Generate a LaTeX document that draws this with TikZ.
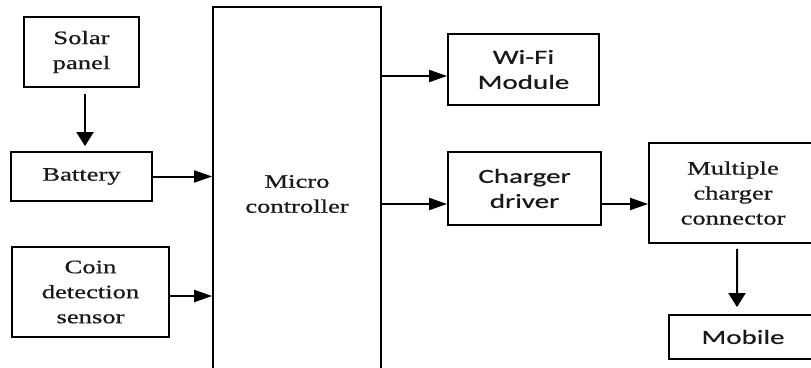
\documentclass[tikz,border=0pt]{standalone}
\usepackage{fontspec}
\setmainfont[FakeStretch=1.4, FakeBold=0.7]{Liberation Serif}
\newfontfamily\calibrifont[FakeStretch=1.45, FakeBold=0.7]{Carlito}
\usetikzlibrary{arrows.meta}

\begin{document}
\begin{tikzpicture}[x=1bp, y=-1bp,
    block/.style={draw, line width=1.8bp, inner sep=0pt, align=center,
        text=black!90, font=\fontsize{19bp}{25bp}\selectfont},
    sblock/.style={block, font=\calibrifont\fontsize{20bp}{25bp}\selectfont},
    harrow/.style={line width=2bp, -{Triangle[length=18bp, width=12bp]}},
    varrow/.style={line width=2bp, -{Triangle[length=14bp, width=17bp]}}]

    \useasboundingbox (0,0) rectangle (811,367);

    % Inputs
    \node[block, minimum width=115bp, minimum height=70bp] (solar) at (81.5,52) {Solar\\panel};
    \node[block, minimum width=141bp, minimum height=49bp] (battery) at (81.5,176.5) {Battery};
    \node[block, minimum width=157bp, minimum height=90bp] (coin) at (90.5,292) {Coin\\detection\\sensor};

    % Controller (runs off the bottom edge)
    \node[block, minimum width=168bp, minimum height=374bp] (mc) at (297,194) {Micro\\controller};

    % Outputs
    \node[sblock, minimum width=151bp, minimum height=71bp] (wifi) at (523.5,69.5) {Wi-Fi\\Module};
    \node[sblock, minimum width=153bp, minimum height=73bp] (drv) at (524.5,188.5) {Charger\\driver};
    \node[block, minimum width=168bp, minimum height=100bp] (mcc) at (733,193) {Multiple\\charger\\connector};
    \node[sblock, minimum width=148bp, minimum height=44bp] (mobile) at (743,337) {Mobile};

    % Arrows
    \draw[varrow] ([xshift=3.5bp, yshift=-6bp]solar.south) -- ([xshift=3.5bp, yshift=5bp]battery.north);
    \draw[harrow] (battery.east) -- (battery.east -| mc.west);
    \coordinate (c1) at ([yshift=-4bp]coin.east);
    \draw[harrow] (c1) -- (c1 -| mc.west);

    \coordinate (w1) at ([yshift=-6.5bp]wifi.west);
    \draw[harrow] (mc.east |- w1) -- (w1);
    \coordinate (d1) at ([yshift=-15.5bp]drv.west);
    \draw[harrow] (mc.east |- d1) -- (d1);
    \coordinate (d2) at ([yshift=-15.5bp]drv.east);
    \draw[harrow] (d2) -- (mcc.west |- d2);

    \draw[varrow] ([xshift=4bp, yshift=-5bp]mcc.south) -- ([xshift=-6bp, yshift=7bp]mobile.north);
\end{tikzpicture}
\end{document}
